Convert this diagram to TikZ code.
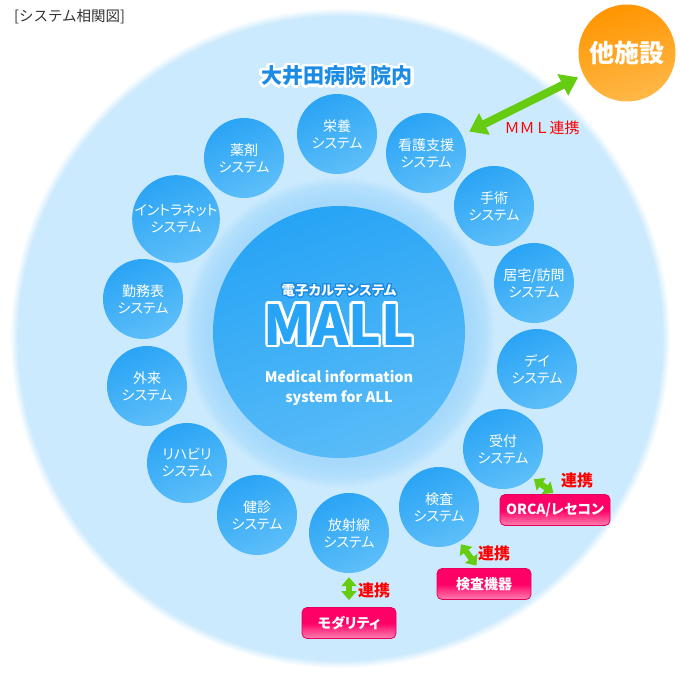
\documentclass[tikz,border=0pt]{standalone}
\usepackage{fontspec}
\setmainfont{Noto Sans CJK JP}[RawFeature=+palt]
\newfontfamily\jpwide{Noto Sans CJK JP}
\usepackage[copies]{contour}
\contournumber{24}
\usetikzlibrary{arrows.meta}
\definecolor{bgblue}{HTML}{CCEAFD}
\definecolor{glowblue}{HTML}{A6D9FB}
\definecolor{glowedge}{HTML}{B4E0FC}
\definecolor{sysblue}{HTML}{2AA4F5}
\definecolor{syslight}{HTML}{5EBFF9}
\definecolor{mallblue}{HTML}{27A4F5}
\definecolor{malllight}{HTML}{5ABCF8}
\definecolor{titleblue}{HTML}{1A8CE5}
\definecolor{linkgreen}{HTML}{66CC11}
\definecolor{linkred}{HTML}{FF0000}
\definecolor{pinktop}{HTML}{FF0066}
\definecolor{pinkbot}{HTML}{FF80B0}
\definecolor{pinkedge}{HTML}{E6005C}
\definecolor{orangetop}{HTML}{FF9500}
\definecolor{orangebot}{HTML}{FFB848}
\definecolor{greytext}{HTML}{333333}
% soft-edged hospital disc and the halo round the MALL core
\pgfdeclareradialshading{hospitalbg}{\pgfpoint{0bp}{0bp}}{color(0bp)=(bgblue); color(24.4bp)=(bgblue); color(25bp)=(white); color(50bp)=(white)}
\pgfdeclareradialshading{mallglow}{\pgfpoint{0bp}{0bp}}{color(0bp)=(glowblue); color(21bp)=(glowblue); color(23.5bp)=(glowedge); color(25bp)=(bgblue); color(50bp)=(bgblue)}

\begin{document}
\begin{tikzpicture}[
  x=1pt, y=-1pt,
  % one of the in-house systems round the core
  sys/.style={circle, minimum size=80pt, inner sep=0, top color=sysblue,
              bottom color=syslight, shading angle=25, text=white,
              align=center, font=\fontsize{14}{17}\selectfont},
  mallcore/.style={circle, minimum size=252pt, inner sep=0, top color=mallblue,
                   bottom color=malllight, shading angle=20},
  outside/.style={circle, minimum size=97pt, inner sep=0, top color=orangetop,
                  bottom color=orangebot, shading angle=15, text=white,
                  font=\bfseries\fontsize{25}{25}\selectfont},
  % external device / software box
  linkbox/.style={rounded corners=5pt, minimum height=31pt, inner sep=0,
                  top color=pinktop, bottom color=pinkbot, middle color=pinktop,
                  draw=pinkedge, line width=0.8pt, text=white,
                  font=\bfseries\fontsize{14}{14}\selectfont},
  mmlarrow/.style={draw=linkgreen, line width=8pt,
                   {Triangle[length=17pt,width=23pt]}-{Triangle[length=17pt,width=23pt]}},
  linkarrow/.style={draw=linkgreen, line width=6pt,
                    {Triangle[length=9pt,width=15pt]}-{Triangle[length=9pt,width=15pt]}},
  linklbl/.style={text=linkred, font=\bfseries\fontsize{16}{16}\selectfont, inner sep=0}
]
\useasboundingbox (0,0) rectangle (680,680);
\fill[white] (0,0) rectangle (680,680);

% ══ hospital disc ══════════════════════════════════════════════════════════
\shade[shading=hospitalbg] (340,338) circle [radius=330];
\shade[shading=mallglow] (339,332) circle [radius=156];

\node[anchor=west, text=greytext, font=\jpwide\fontsize{14.5}{14.5}\selectfont, inner sep=0]
  (caption) at (14,17) {[システム相関図]};
\node[text=titleblue, font=\bfseries\fontsize{21}{21}\selectfont, inner sep=0]
  (hospital) at (337,77) {\contourlength{2.5pt}\contour{white}{大井田病院 院内}};

% ══ MALL core ══════════════════════════════════════════════════════════════
\node[mallcore] (mall) at (339,332) {};
\node[text=white, font=\bfseries\fontsize{13.5}{13.5}\selectfont, inner sep=0]
  (malltag) at (339,291) {\contourlength{1.2pt}\contour{titleblue}{電子カルテシステム}};
\node[text=mallblue, font=\bfseries\fontsize{55}{55}\selectfont, inner sep=0]
  (mallname) at (339,326) {\contourlength{2.6pt}\contour{white}{MALL}};
\node[text=white, align=center, font=\bfseries\fontsize{14.5}{19.5}\selectfont, inner sep=0]
  (mallsub) at (339,388) {Medical information\\system for ALL};

% ══ systems ════════════════════════════════════════════════════════════════
\foreach \nm/\cx/\cy/\txt in {
  eiyo/337/134/{栄養\\システム},
  kango/426/153/{看護支援\\システム},
  shujutsu/494/206/{手術\\システム},
  kyotaku/534/283/{居宅/訪問\\システム},
  day/537/369/{デイ\\システム},
  uketsuke/503/449/{受付\\システム},
  kensa/439/507/{検査\\システム},
  hoshasen/349/533/{放射線\\システム},
  kenshin/257/515/{健診\\システム},
  reha/187/463/{リハビリ\\システム},
  gairai/147/386/{外来\\システム},
  kinmu/143/299/{勤務表\\システム},
  intra/176/219/{イントラネット\\システム},
  yakuzai/244/158/{薬剤\\システム}}{
  \node[sys] (\nm) at (\cx,\cy) {\txt};
}

% ══ outside links ══════════════════════════════════════════════════════════
\node[outside] (tashisetsu) at (627,53) {他施設};
\draw[mmlarrow, shorten <=8pt, shorten >=6pt] (kango) -- (tashisetsu);
\node[text=linkred, font=\jpwide\fontsize{15}{15}\selectfont, inner sep=0]
  (mmllbl) at (542,128) {ＭＭＬ連携};

\node[linkbox, minimum width=110pt] (orca) at (555,510) {ORCA/レセコン};
\node[linkbox, minimum width=94pt] (kiki) at (484,584) {検査機器};
\node[linkbox, minimum width=94pt] (modality) at (349,623) {モダリティ};

\draw[linkarrow, shorten <=3pt, shorten >=2pt] (uketsuke.-45) -- (orca.north);
\draw[linkarrow, shorten <=3pt, shorten >=3pt] (kensa.-60) -- (kiki.110);
\draw[linkarrow, shorten <=4pt, shorten >=7pt] (hoshasen) -- (modality);

\node[linklbl] (renkei1) at (577,480) {連携};
\node[linklbl] (renkei2) at (494,553) {連携};
\node[linklbl] (renkei3) at (374,590) {連携};

\end{tikzpicture}
\end{document}
